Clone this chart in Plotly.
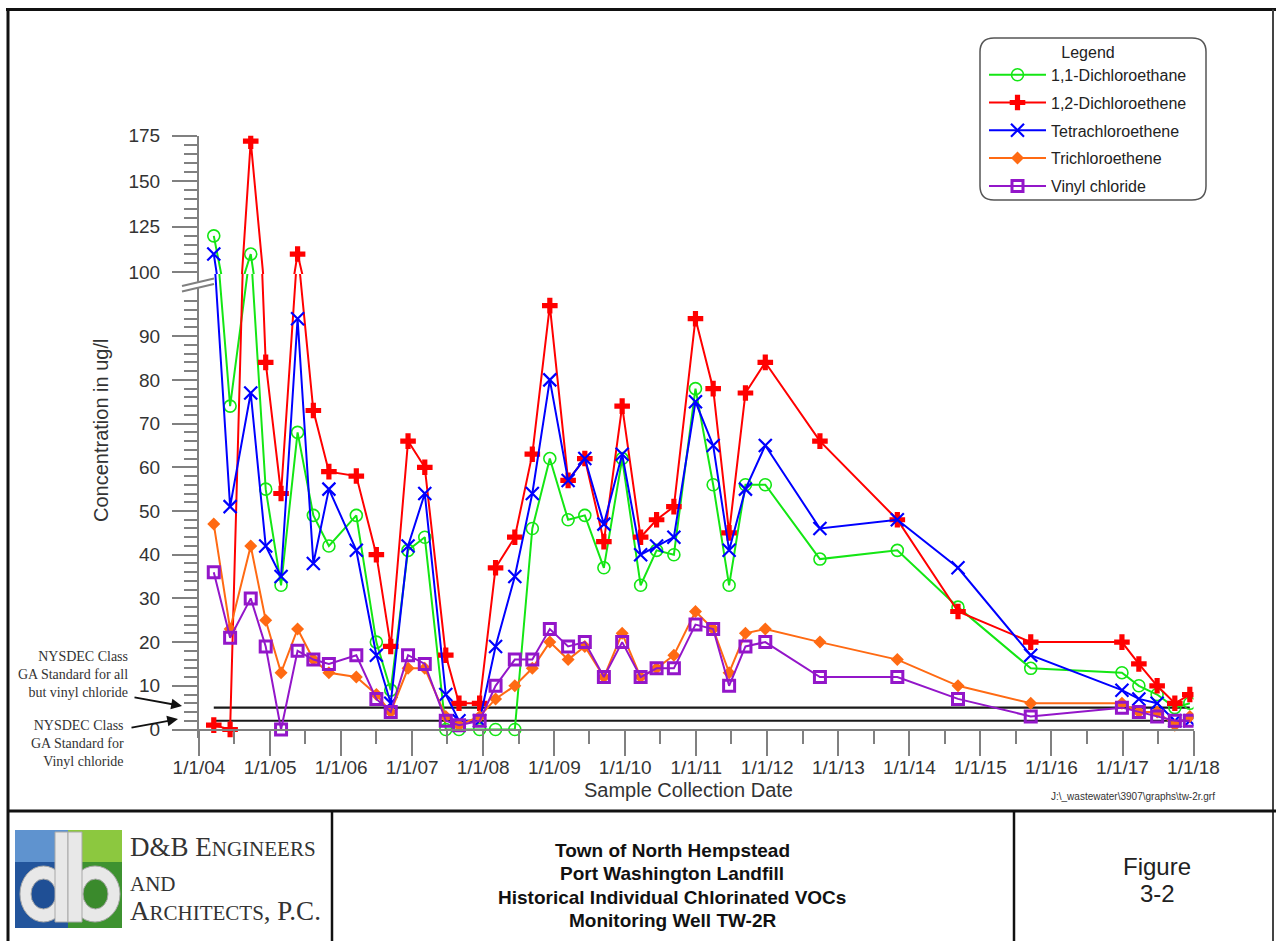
import plotly.graph_objects as go

# ---------------- data ----------------
dates = ["2004-03-17", "2004-06-09", "2004-09-23", "2004-12-09", "2005-02-26", "2005-05-22",
         "2005-08-11", "2005-10-30", "2006-03-20", "2006-07-01", "2006-09-13", "2006-12-11",
         "2007-03-07", "2007-06-23", "2007-08-30", "2007-12-14", "2008-03-05", "2008-06-12",
         "2008-09-10", "2008-12-09", "2009-03-13", "2009-06-07", "2009-09-13", "2009-12-16",
         "2010-03-21", "2010-06-11", "2010-09-08", "2010-12-28", "2011-03-29", "2011-06-19",
         "2011-09-11", "2011-12-22", "2012-09-28", "2013-10-31", "2014-09-08", "2015-09-17",
         "2016-12-29", "2017-03-26", "2017-06-28", "2017-09-27", "2017-12-13"]

dichloroethane_11 = [120, 74, 110, 55, 33, 68, 49, 42, 49, 20, 9, 41, 44, 0, 0, 0, 0, 0, 46, 62,
                     48, 49, 37, 62, 33, 41, 40, 78, 56, 33, 56, 56, 39, 41, 28, 14, 13, 10, 8, 5, 6]
dichloroethene_12 = [1, 0, 172, 84, 54, 110, 73, 59, 58, 40, 19, 66, 60, 17, 6, 6, 37, 44, 63, 97,
                     57, 62, 43, 74, 44, 48, 51, 94, 78, 45, 77, 84, 66, 48, 27, 20, 20, 15, 10, 6, 8]
tetrachloroethene = [110, 51, 77, 42, 35, 94, 38, 55, 41, 17, 6, 42, 54, 8, 2, 2, 19, 35, 54, 80,
                     57, 62, 47, 63, 40, 42, 44, 75, 65, 41, 55, 65, 46, 48, 37, 17, 9, 7, 6, 2, 2]
trichloroethene = [47, 23, 42, 25, 13, 23, 16, 13, 12, 8, 4, 14, 14, 3, 1, 3, 7, 10, 14, 20,
                   16, 19, 12, 22, 12, 14, 17, 27, 23, 13, 22, 23, 20, 16, 10, 6, 6, 4, 4, 1, 3]
vinyl_chloride = [36, 21, 30, 19, 0, 18, 16, 15, 17, 7, 4, 17, 15, 2, 1, 2, 10, 16, 16, 23,
                  19, 20, 12, 20, 12, 14, 14, 24, 23, 10, 19, 20, 12, 12, 7, 3, 5, 4, 3, 2, 2]

series_names = ["1,1-Dichloroethane", "1,2-Dichloroethene", "Tetrachloroethene",
                "Trichloroethene", "Vinyl chloride"]
series_values = [dichloroethane_11, dichloroethene_12, tetrachloroethene,
                 trichloroethene, vinyl_chloride]

standards = [5, 2]   # NYSDEC Class GA standards (all but VC, VC)

year_ticks = ["%d-01-01" % y for y in range(2004, 2019)]
year_labels = ["1/1/%02d" % (y % 100) for y in range(2004, 2019)]
half_ticks = ["%d-07-01" % y for y in range(2004, 2018)]

low_major = list(range(0, 100, 10))
low_minor = [v for v in range(2, 100, 2) if v % 10]
up_major = [100, 125, 150, 175]
up_minor = [v for v in range(105, 175, 5) if v % 25]
BREAK_VALUE = 100   # upper panel of the broken axis starts here

# ---------------- styling ----------------
W, H = 1276, 941
def px(x): return x / W
def py(y): return 1 - y / H

FONT = "Liberation Sans, Arial, sans-serif"
SERIF = "Liberation Serif, Times New Roman, serif"

styles = [
    dict(color="#14e614", marker=dict(symbol="circle-open", size=12, color="#14e614", opacity=1,
                                       line=dict(width=1.6, color="#14e614"))),
    dict(color="#ff0000", marker=dict(symbol="cross", size=13, color="#ff0000", opacity=1,
                                       line=dict(width=0))),
    dict(color="#0000ff", marker=dict(symbol="x-thin", size=13, color="#0000ff", opacity=1,
                                       line=dict(width=2.2, color="#0000ff"))),
    dict(color="#ff6a13", marker=dict(symbol="diamond", size=10, color="#ff6a13", opacity=1,
                                       line=dict(width=0))),
    dict(color="#9316c9", marker=dict(symbol="square-open", size=11, color="#9316c9", opacity=1,
                                       line=dict(width=3, color="#9316c9"))),
]

fig = go.Figure()

# standards (lower panel only)
for s in standards:
    fig.add_trace(go.Scatter(x=[dates[0], dates[-1]], y=[s, s], mode="lines",
                             line=dict(color="#1a1a1a", width=2.2), showlegend=False,
                             hoverinfo="skip", xaxis="x", yaxis="y"))

for name, vals, st in zip(series_names, series_values, styles):
    # lower panel
    fig.add_trace(go.Scatter(x=dates, y=vals, mode="lines+markers", name=name,
                             legendgroup=name, showlegend=True,
                             line=dict(color=st["color"], width=2),
                             marker=st["marker"], xaxis="x", yaxis="y"))
    # upper panel: only points above the break get a marker
    mk = dict(st["marker"])
    mk["size"] = [st["marker"]["size"] if v >= BREAK_VALUE else 0 for v in vals]
    fig.add_trace(go.Scatter(x=dates, y=vals, mode="lines+markers", name=name,
                             legendgroup=name, showlegend=False,
                             line=dict(color=st["color"], width=2),
                             marker=mk, xaxis="x", yaxis="y2"))

# axis geometry (pixel calibration of the broken axis)
y0_px = 729.5          # value 0
k_low = 4.37           # px per unit, lower part
break_px = 274.1       # boundary between panels
low_bottom = -2
low_top = (y0_px - break_px) / k_low

axis_common = dict(showline=True, linecolor="#808080", linewidth=2, ticks="outside",
                   tickcolor="#808080", tickwidth=2, ticklen=25, showgrid=False, zeroline=False,
                   automargin=False,
                   tickfont=dict(family=FONT, size=19, color="#333333"))

fig.update_layout(
    width=W, height=H, margin=dict(l=0, r=0, t=0, b=0, pad=0, autoexpand=False),
    paper_bgcolor="white", plot_bgcolor="white",
    font=dict(family=FONT, color="#333333"),
    xaxis=dict(domain=[px(199), px(1193.5)], type="date",
               range=["2004-01-01", "2018-01-01"], anchor="free", position=py(y0_px),
               tickmode="array", tickvals=year_ticks, ticktext=year_labels,
               ticklabelstandoff=-4,
               minor=dict(tickmode="array", tickvals=half_ticks, ticks="outside",
                          ticklen=13, tickwidth=2, tickcolor="#808080"),
               **axis_common),
    yaxis=dict(domain=[py(y0_px - low_bottom * k_low), py(break_px)],
               range=[low_bottom, low_top], anchor="x",
               tickmode="array", tickvals=low_major, ticklabelstandoff=8,
               minor=dict(tickmode="array", tickvals=low_minor, ticks="outside",
                          ticklen=13, tickwidth=2, tickcolor="#808080"),
               **axis_common),
    yaxis2=dict(domain=[py(break_px), py(135.7)], range=[99, 175], anchor="x",
                tickmode="array", tickvals=up_major, ticklabelstandoff=8,
                minor=dict(tickmode="array", tickvals=up_minor, ticks="outside",
                           ticklen=13, tickwidth=2, tickcolor="#808080"),
                **axis_common),
    showlegend=True,
    legend=dict(x=px(984), y=py(37), xanchor="left", yanchor="top",
                bgcolor="rgba(0,0,0,0)", borderwidth=0, itemwidth=57,
                tracegroupgap=4, font=dict(family=FONT, size=16, color="#222222"),
                title=dict(text="Legend", side="top center",
                           font=dict(family=FONT, size=16, color="#222222"))),
)

shapes = []
def line(x0, y0, x1, y1, color="black", width=3):
    shapes.append(dict(type="line", xref="paper", yref="paper", x0=px(x0), y0=py(y0),
                       x1=px(x1), y1=py(y1), line=dict(color=color, width=width)))
def rect(x0, y0, x1, y1, fill, lc=None, lw=0, kind="rect"):
    shapes.append(dict(type=kind, xref="paper", yref="paper", x0=px(x0), y0=py(y0),
                       x1=px(x1), y1=py(y1), fillcolor=fill,
                       line=dict(color=lc or fill, width=lw), layer="above"))

# page frame and title block
line(6, 9.5, 1276, 9.5, "#111", 3)
line(8, 9.5, 8, 941, "#111", 3)
line(1273, 9.5, 1273, 941, "#444", 2)
line(8, 811, 1276, 811, "#111", 3)
line(332, 811, 332, 941, "#111", 2.5)
line(1014, 811, 1014, 941, "#111", 2.5)

# axis break marks
shapes.append(dict(type="path", xref="paper", yref="paper",
                   path="M %f %f L %f %f L %f %f L %f %f Z" % (
                       px(182), py(286), px(214), py(279), px(214), py(284), px(182), py(291)),
                   fillcolor="white", line=dict(color="white", width=0), layer="above"))
line(182, 286, 214, 278.5, "#808080", 2)
line(182, 291.5, 214, 284, "#808080", 2)

# rounded legend frame
x0, y0, x1, y1, r = 980, 38, 1206, 200, 14
p = ("M {a} {b} L {c} {b} Q {d} {b} {d} {e} L {d} {f} Q {d} {g} {c} {g} L {a} {g} "
     "Q {h} {g} {h} {f} L {h} {e} Q {h} {b} {a} {b} Z").format(
    a=px(x0 + r), b=py(y0), c=px(x1 - r), d=px(x1), e=py(y0 + r), f=py(y1 - r),
    g=py(y1), h=px(x0))
shapes.append(dict(type="path", xref="paper", yref="paper", path=p,
                   line=dict(color="#555555", width=1.5)))

# logo
rect(15, 830, 68, 862, "#5f93cf")
rect(15, 862, 68, 928, "#23559c")
rect(68, 830, 122, 862, "#8cc83f")
rect(68, 862, 122, 928, "#3e9230")
silver, sl = "#e8e8e8", "#a8a8a8"
rect(20, 866, 67, 922, silver, sl, 1, "circle")
rect(31, 879, 56, 909, "#1f4f95", "#a8a8a8", 1, "circle")
rect(55, 832, 68, 922, silver, sl, 1)
rect(70, 866, 120, 922, silver, sl, 1, "circle")
rect(83, 879, 108, 909, "#3a8a2c", "#a8a8a8", 1, "circle")
rect(68, 832, 82, 922, silver, sl, 1)

fig.update_layout(shapes=shapes)

ann = []
def text(x, y, s, size, family=FONT, color="#333333", xanchor="center", angle=0, align="center"):
    ann.append(dict(x=px(x), y=py(y), xref="paper", yref="paper", text=s, showarrow=False,
                    xanchor=xanchor, yanchor="middle", textangle=angle, align=align,
                    font=dict(family=family, size=size, color=color)))

text(101, 431, "Concentration in ug/l", 20, angle=-90)
text(688, 790, "Sample Collection Date", 20)
text(1133, 796, r"J:\_wastewater\3907\graphs\tw-2r.grf", 10)

text(130, 674, "NYSDEC Class<br>GA Standard for all<br>but vinyl chloride", 14, SERIF,
     xanchor="right", align="right")
text(126, 743, "NYSDEC Class<br>GA Standard for<br>Vinyl chloride", 14, SERIF,
     xanchor="right", align="right")

for (tx, ty, hx, hy) in ((133, 697, 182, 706), (130, 728, 178, 719)):
    ann.append(dict(x=px(hx), y=py(hy), xref="paper", yref="paper", ax=tx - hx, ay=ty - hy,
                    axref="pixel", ayref="pixel", text="", showarrow=True, arrowhead=2,
                    arrowsize=1.2, arrowwidth=1.8, arrowcolor="#111"))

# title block
for i, s in enumerate(["Town of North Hempstead", "Port Washington Landfill",
                       "Historical Individual Chlorinated VOCs", "Monitoring Well TW-2R"]):
    text(672, 850 + i * 23.5, "<b>%s</b>" % s, 19, color="#111111")
text(1157, 866, "Figure", 24, color="#222222")
text(1157, 893, "3-2", 24, color="#222222")

sc = '<span style="font-size:21px">%s</span>'
text(128, 847, "D&amp;B E" + sc % "NGINEERS", 27, SERIF, xanchor="left", color="#333333")
text(128, 884, sc % "AND", 27, SERIF, xanchor="left", color="#333333")
text(128, 911, "A" + sc % "RCHITECTS" + ", P.C.", 27, SERIF, xanchor="left", color="#333333")

fig.update_layout(annotations=ann)

fig.write_html("out.html", config={"displayModeBar": False},
               post_script="document.body.style.margin='0px';"
                           "document.body.style.overflow='hidden';")
